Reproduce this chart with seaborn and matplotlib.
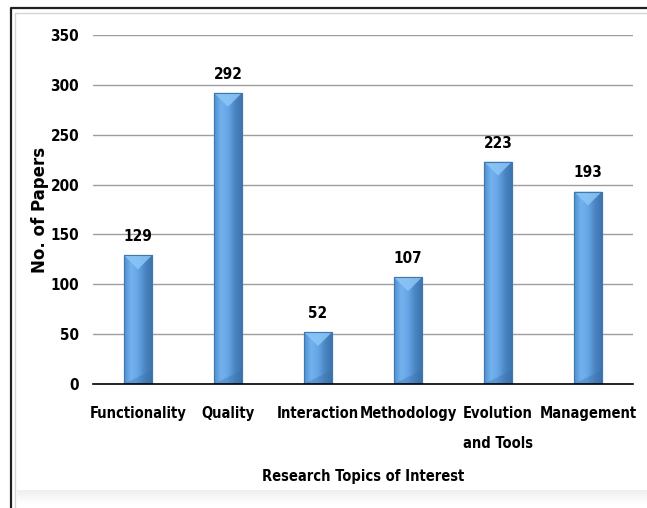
import matplotlib
matplotlib.use("Agg")
import matplotlib.pyplot as plt
import matplotlib.patches as mpatches
from matplotlib.lines import Line2D
import numpy as np
import pandas as pd
import seaborn as sns

# Papers per research topic
topics = ["Functionality", "Quality", "Interaction", "Methodology",
          "Evolution\nand Tools", "Management"]
papers = [129, 292, 52, 107, 223, 193]
y_ticks = [0, 50, 100, 150, 200, 250, 300, 350]

sns.set_theme(style="white")
plt.rcParams["font.family"] = ["DejaVu Sans"]
plt.rcParams["font.stretch"] = "condensed"
plt.rcParams["text.color"] = "black"
plt.rcParams["axes.labelcolor"] = "black"
plt.rcParams["xtick.color"] = "black"
plt.rcParams["ytick.color"] = "black"

df = pd.DataFrame({"topic": topics, "papers": papers})

fig = plt.figure(figsize=(6.47, 5.08), dpi=100)
fig.patch.set_facecolor("white")
W, H = 647, 508
ax = fig.add_axes([93 / W, 1 - 384 / H, (633 - 93) / W, (384 - 35) / H])

sns.barplot(data=df, x="topic", y="papers", ax=ax, color="#5b9bd5",
            width=0.31, edgecolor="#3f77b0", linewidth=0.8, zorder=3)

tick_font = dict(fontsize=11, fontweight="bold", fontstretch="condensed")
cat_font = dict(fontsize=10.5, fontweight="bold", fontstretch="condensed")
ax.set_ylim(0, 350)
ax.set_xlim(-0.5, 5.5)
ax.set_yticks(y_ticks)
ax.set_yticklabels([str(t) for t in y_ticks], **tick_font)
ax.set_xticks(range(len(topics)))
ax.set_xticklabels(topics, linespacing=2.25, va="top", **cat_font)
ax.tick_params(axis="y", length=0, pad=10)
ax.tick_params(axis="x", length=0, pad=16)
ax.yaxis.grid(True, color="#9e9e9e", linewidth=1.0, zorder=0)
for s in ["left", "right", "top"]:
    ax.spines[s].set_visible(False)
ax.spines["bottom"].set_color("black")
ax.spines["bottom"].set_linewidth(1.2)
ax.spines["bottom"].set_zorder(5)

ax.set_xlabel("Research Topics of Interest", labelpad=13, **cat_font)
ax.set_ylabel("No. of Papers", fontsize=12, fontweight="bold",
              fontstretch="normal")
ax.yaxis.set_label_coords(-0.081, 0.499)

# Shaded, bevelled bar faces
fig.canvas.draw()
grad = np.linspace(0, 1, 64).reshape(1, -1)
cmap = matplotlib.colors.LinearSegmentedColormap.from_list(
    "bar", ["#4f8fd0", "#74b2ee", "#66a6e6", "#4b86c4", "#3e74ad"])
for p, v in zip(ax.patches, papers):
    x0, w = p.get_x(), p.get_width()
    x1 = x0 + w
    xc = x0 + w / 2
    im = ax.imshow(grad, extent=[x0, x1, 0, v], aspect="auto", cmap=cmap,
                   zorder=3.5, interpolation="bicubic")
    im.set_clip_path(p)
    # bevel depth: half the bar width, converted to data units
    px = ax.transData.transform([[x0, 0], [x1, 0]])
    half_px = (px[1, 0] - px[0, 0]) / 2
    dy = ax.transData.inverted().transform([[0, 0], [0, half_px]])
    h = dy[1, 1] - dy[0, 1]
    ax.add_patch(mpatches.Polygon([[x0, v], [x1, v], [xc, v - h]],
                                  closed=True, facecolor="#8cc6f7",
                                  edgecolor="none", alpha=0.85, zorder=3.6))
    ax.add_patch(mpatches.Polygon([[x0, 0], [x1, 0], [x1, h]],
                                  closed=True, facecolor="#3b6fa6",
                                  edgecolor="none", alpha=0.35, zorder=3.6))
    ax.add_patch(mpatches.Rectangle((x0, 0), w, v, facecolor="none",
                                    edgecolor="#3f77b0", linewidth=0.8,
                                    zorder=3.7))
    ax.annotate(str(v), (xc, v), xytext=(0, 8), textcoords="offset points",
                ha="center", va="bottom", **tick_font)

# Chart frame
fig.add_artist(Line2D([10.5 / W, 10.5 / W, 1], [0, 1 - 7.5 / H, 1 - 7.5 / H],
                      transform=fig.transFigure, color="#202020", linewidth=1.6))
fig.add_artist(Line2D([15.5 / W, 15.5 / W, 1], [0, 1 - 12.5 / H, 1 - 12.5 / H],
                      transform=fig.transFigure, color="#d4d4d4", linewidth=1.0))
n_shade = 18
shade = 1 - 0.07 * np.linspace(1, 0, n_shade).reshape(-1, 1) ** 1.5
fig.figimage(shade * np.ones((n_shade, W - 17)), xo=17, yo=0, cmap="gray",
             vmin=0, vmax=1, zorder=0)

fig.savefig("out.png", dpi=100, facecolor="white")
